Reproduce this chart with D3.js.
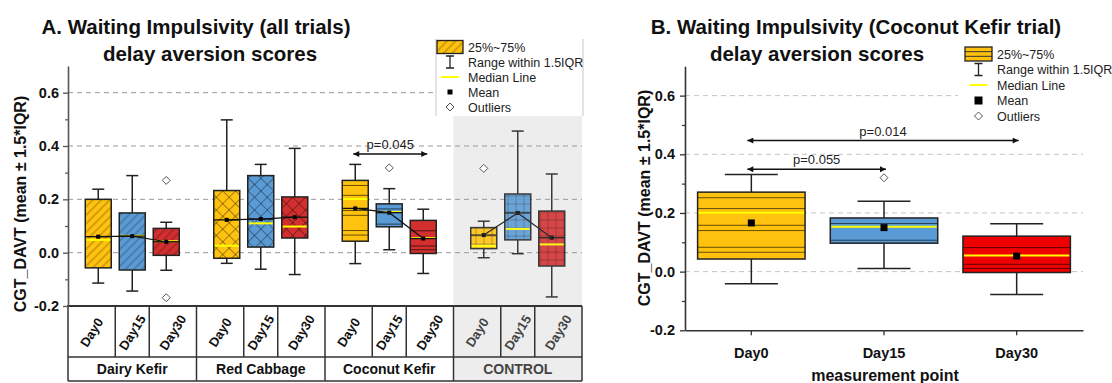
<!DOCTYPE html>
<html>
<head>
<meta charset="utf-8">
<script src="https://cdn.jsdelivr.net/npm/d3@7"></script>
<style>
  html, body { margin: 0; padding: 0; background: #fff; }
  svg { display: block; font-family: "Liberation Sans", Arial, sans-serif; }
</style>
</head>
<body>
<svg id="chart" width="1112" height="383"></svg>
<script>
// values
const groups = ['Dairy Kefir', 'Red Cabbage', 'Coconut Kefir', 'CONTROL'];
const days = ['Day0', 'Day15', 'Day30'];

// one row per group, one value per day
const whiskerLow  = [[-0.114, -0.144, -0.066], [-0.040, -0.062, -0.082], [-0.041, 0.011, -0.078], [-0.019, -0.004, -0.166]];
const quart1      = [[-0.057, -0.065, -0.010], [-0.021, 0.021, 0.055], [0.043, 0.097, -0.003], [0.015, 0.048, -0.050]];
const medians     = [[0.048, 0.063, 0.043], [0.026, 0.110, 0.098], [0.201, 0.153, 0.055], [0.025, 0.089, 0.031]];
const means       = [[0.060, 0.062, 0.041], [0.123, 0.126, 0.133], [0.166, 0.150, 0.053], [0.066, 0.149, 0.056]];
const quart3      = [[0.200, 0.149, 0.091], [0.233, 0.289, 0.209], [0.271, 0.183, 0.121], [0.094, 0.220, 0.156]];
const whiskerHigh = [[0.238, 0.289, 0.114], [0.498, 0.331, 0.391], [0.331, 0.240, 0.163], [0.118, 0.456, 0.295]];

// coconut kefir single scores drawn as lines inside the boxes
const coconutPoints = [[0.252, 0.215, 0.158, 0.140, 0.083, 0.066], [0.164, 0.107], [0.082, 0.025, 0.011]];

const outliersA = [['Dairy Kefir', 'Day30', 0.271], ['Dairy Kefir', 'Day30', -0.169], ['Coconut Kefir', 'Day15', 0.318], ['CONTROL', 'Day0', 0.316]];
const outliersB = [['Day15', 0.320]];

const pairsA = [['Coconut Kefir', 'Day0', 'Day30', 0.37, 'p=0.045']];
const pairsB = [['Day0', 'Day30', 0.447, 'p=0.014'], ['Day0', 'Day15', 0.349, 'p=0.055']];

const majorTicks = [-0.2, 0.0, 0.2, 0.4, 0.6];
const minorTicks = [-0.1, 0.1, 0.3, 0.5];
const legendLabels = ['25%~75%', 'Range within 1.5IQR', 'Median Line', 'Mean', 'Outliers'];

const colorsA = ['#FFC20E', '#5B9BD5', '#D32F2F'];
const colorsB = ['#FFC20E', '#5B9BD5', '#EE0000'];
const groupPattern = ['hatchDiag', 'hatchCross', null, 'hatchGrid'];
const MEDIAN = '#FFFF00';
const INK = '#222';

const svg = d3.select('#chart');
const defs = svg.append('defs');

function pattern(id, size, rotate, lines, alpha) {
  const p = defs.append('pattern')
    .attr('id', id)
    .attr('patternUnits', 'userSpaceOnUse')
    .attr('width', size).attr('height', size);
  if (rotate) p.attr('patternTransform', `rotate(${rotate})`);
  lines.forEach(l => p.append('line')
    .attr('x1', l[0]).attr('y1', l[1]).attr('x2', l[2]).attr('y2', l[3])
    .attr('stroke', `rgba(0,0,0,${alpha})`).attr('stroke-width', 0.8));
}
pattern('hatchDiag', 6, 45, [[3, 0, 3, 6]], 0.45);
pattern('hatchCross', 9, 45, [[4.5, 0, 4.5, 9], [0, 4.5, 9, 4.5]], 0.45);
pattern('hatchGrid', 8, 0, [[4, 0, 4, 8], [0, 4, 8, 4]], 0.35);

defs.append('marker')
  .attr('id', 'arrow')
  .attr('viewBox', '0 0 10 10')
  .attr('refX', 10).attr('refY', 5)
  .attr('markerWidth', 9).attr('markerHeight', 6)
  .attr('markerUnits', 'userSpaceOnUse')
  .attr('orient', 'auto-start-reverse')
  .append('path').attr('d', 'M0,0L10,5L0,10z').attr('fill', '#111');

function rowsFor(gi) {
  return days.map((d, di) => ({
    group: groups[gi], day: d, gi, di,
    lo: whiskerLow[gi][di], q1: quart1[gi][di], med: medians[gi][di],
    mean: means[gi][di], q3: quart3[gi][di], hi: whiskerHigh[gi][di],
    points: gi === 2 ? coconutPoints[di] : []
  }));
}

function drawBoxes(g, rows, xc, y, o) {
  const box = g.selectAll('g.box').data(rows).join('g').attr('class', 'box');
  const half = o.width / 2;

  box.append('line')
    .attr('x1', xc).attr('x2', xc)
    .attr('y1', d => y(d.hi)).attr('y2', d => y(d.lo))
    .attr('stroke', INK).attr('stroke-width', 1.5);
  ['hi', 'lo'].forEach(k => box.append('line')
    .attr('x1', d => xc(d) - o.cap / 2).attr('x2', d => xc(d) + o.cap / 2)
    .attr('y1', d => y(d[k])).attr('y2', d => y(d[k]))
    .attr('stroke', INK).attr('stroke-width', 1.5));

  box.append('rect')
    .attr('x', d => xc(d) - half).attr('width', o.width)
    .attr('y', d => y(d.q3)).attr('height', d => y(d.q1) - y(d.q3))
    .attr('fill', d => o.colors[d.di]);
  box.filter(d => o.pattern(d))
    .append('rect')
    .attr('x', d => xc(d) - half).attr('width', o.width)
    .attr('y', d => y(d.q3)).attr('height', d => y(d.q1) - y(d.q3))
    .attr('fill', d => `url(#${o.pattern(d)})`);

  box.selectAll('line.pt').data(d => d.points.map(p => ({ p, d }))).join('line')
    .attr('class', 'pt')
    .attr('x1', e => xc(e.d) - half).attr('x2', e => xc(e.d) + half)
    .attr('y1', e => y(e.p)).attr('y2', e => y(e.p))
    .attr('stroke', 'rgba(0,0,0,0.6)').attr('stroke-width', 1);

  box.append('rect')
    .attr('x', d => xc(d) - half).attr('width', o.width)
    .attr('y', d => y(d.q3)).attr('height', d => y(d.q1) - y(d.q3))
    .attr('fill', 'none').attr('stroke', INK).attr('stroke-width', 1.5);

  box.append('line')
    .attr('x1', d => xc(d) - half + 1).attr('x2', d => xc(d) + half - 1)
    .attr('y1', d => y(d.med)).attr('y2', d => y(d.med))
    .attr('stroke', MEDIAN).attr('stroke-width', 2);

  if (o.meanLine) {
    box.append('line')
      .attr('x1', d => xc(d) - half).attr('x2', d => xc(d) + half)
      .attr('y1', d => y(d.mean)).attr('y2', d => y(d.mean))
      .attr('stroke', '#111').attr('stroke-width', 1.3);
  }
  box.append('rect')
    .attr('x', d => xc(d) - o.meanSize / 2).attr('y', d => y(d.mean) - o.meanSize / 2)
    .attr('width', o.meanSize).attr('height', o.meanSize)
    .attr('fill', '#000');
}

function diamond(sel, r) {
  sel.attr('d', `M0,${-r}L${r},0L0,${r}L${-r},0Z`)
    .attr('fill', '#fff').attr('stroke', '#555').attr('stroke-width', 1);
}

function grid(g, y, x0, gridRight, gridColor) {
  g.append('g').selectAll('line').data(majorTicks.filter(v => v > -0.2)).join('line')
    .attr('x1', x0).attr('x2', gridRight)
    .attr('y1', y).attr('y2', y)
    .attr('stroke', gridColor).attr('stroke-width', 1).attr('stroke-dasharray', '5,4');
}

function styleAxis(ax, color) {
  ax.select('.domain').attr('stroke', color).attr('stroke-width', 1.6);
  ax.selectAll('.tick line').attr('stroke', color).attr('stroke-width', 1.3);
  ax.selectAll('.tick text').attr('fill', '#111').attr('font-size', 14.5).attr('font-weight', 'bold');
}

function legend(g, x0, y0, rowH, o) {
  const lg = g.append('g').attr('transform', `translate(${x0},${y0})`);
  const sx = o.sw / 2;
  lg.append('rect').attr('x', 0).attr('y', -o.sh / 2).attr('width', o.sw).attr('height', o.sh)
    .attr('fill', colorsA[0]);
  if (o.swPattern) {
    lg.append('rect').attr('x', 0).attr('y', -o.sh / 2).attr('width', o.sw).attr('height', o.sh)
      .attr('fill', `url(#${o.swPattern})`);
  } else {
    [-1, 1].forEach(s => lg.append('line').attr('x1', 0).attr('x2', o.sw)
      .attr('y1', s * o.sh / 6).attr('y2', s * o.sh / 6).attr('stroke', '#333').attr('stroke-width', 1));
  }
  lg.append('rect').attr('x', 0).attr('y', -o.sh / 2).attr('width', o.sw).attr('height', o.sh)
    .attr('fill', 'none').attr('stroke', INK).attr('stroke-width', 1.3);

  const r1 = rowH;
  lg.append('path')
    .attr('d', `M${sx - 4},${r1 - 6}H${sx + 4}M${sx},${r1 - 6}V${r1 + 6}M${sx - 4},${r1 + 6}H${sx + 4}`)
    .attr('stroke', INK).attr('stroke-width', 1.3).attr('fill', 'none');
  lg.append('line').attr('x1', sx - 9).attr('x2', sx + 9).attr('y1', 2 * rowH).attr('y2', 2 * rowH)
    .attr('stroke', MEDIAN).attr('stroke-width', 2);
  lg.append('rect').attr('x', sx - o.ms / 2).attr('y', 3 * rowH - o.ms / 2)
    .attr('width', o.ms).attr('height', o.ms).attr('fill', '#000');
  lg.append('path').attr('transform', `translate(${sx},${4 * rowH})`).call(diamond, 4);

  lg.selectAll('text.lab').data(legendLabels).join('text')
    .attr('class', 'lab')
    .attr('x', o.sw + 5).attr('y', (d, i) => i * rowH)
    .attr('dy', '0.36em')
    .attr('font-size', 12.5).attr('fill', '#222')
    .text(d => d);
}

function bracket(g, x1, x2, yv, label) {
  g.append('line').attr('x1', x1).attr('x2', x2).attr('y1', yv).attr('y2', yv)
    .attr('stroke', '#111').attr('stroke-width', 1.5)
    .attr('marker-start', 'url(#arrow)').attr('marker-end', 'url(#arrow)');
  g.append('text').attr('x', (x1 + x2) / 2).attr('y', yv - 5)
    .attr('text-anchor', 'middle').attr('font-size', 13).attr('fill', '#222').text(label);
}

function title(g, cx1, cx2, text1) {
  g.append('text').attr('x', cx1).attr('y', 34).attr('text-anchor', 'middle')
    .attr('font-size', 20.5).attr('font-weight', 'bold').attr('fill', '#111').text(text1);
  g.append('text').attr('x', cx2).attr('y', 60.5).attr('text-anchor', 'middle')
    .attr('font-size', 20.5).attr('font-weight', 'bold').attr('fill', '#111').text('delay aversion scores');
}

function yLabel(g, x, yc) {
  g.append('text').attr('transform', `translate(${x},${yc}) rotate(-90)`)
    .attr('text-anchor', 'middle').attr('font-size', 16).attr('font-weight', 'bold').attr('fill', '#111')
    .text('CGT_DAVT (mean \u00b1 1.5*IQR)');
}

// ---------------- panel A ----------------
const A = svg.append('g');
const yA = d3.scaleLinear().domain([-0.2, 0.7]).range([306, 66]);
const gx = d3.scaleBand().domain(groups).range([68, 582]);
const dx = d3.scalePoint().domain(days).range([0, gx.bandwidth()]).padding(0.89);
const xA = d => gx(d.group) + dx(d.day);

const ctrlX = gx('CONTROL');
A.append('rect').attr('x', ctrlX).attr('y', 116).attr('width', gx.bandwidth()).attr('height', 381 - 116)
  .attr('fill', '#EDEDED');

grid(A, yA, 68, 582, '#9a9a9a');

// category table under the plot
const tableTop = 306, rowSplit = 357, tableBottom = 381;
const cellEdges = [];
groups.forEach(gname => {
  const s = gx(gname);
  cellEdges.push(s + (dx('Day0') + dx('Day15')) / 2, s + (dx('Day15') + dx('Day30')) / 2);
});
const groupEdges = groups.map(gname => gx(gname)).concat([gx.range()[1]]);
const tbl = A.append('g').attr('stroke', '#333').attr('stroke-width', 1.5);
tbl.selectAll('line.c').data(cellEdges).join('line').attr('class', 'c')
  .attr('x1', d => d).attr('x2', d => d).attr('y1', tableTop).attr('y2', rowSplit);
tbl.selectAll('line.g').data(groupEdges).join('line').attr('class', 'g')
  .attr('x1', d => d).attr('x2', d => d).attr('y1', tableTop).attr('y2', tableBottom);
[rowSplit, tableBottom].forEach(yy => tbl.append('line')
  .attr('x1', 68).attr('x2', 582).attr('y1', yy).attr('y2', yy));
tbl.append('line').attr('x1', 67).attr('x2', 582).attr('y1', tableTop).attr('y2', tableTop)
  .attr('stroke-width', 2);

const dayCells = [];
groups.forEach((gname, gi) => {
  const s = gx(gname), e = s + gx.bandwidth();
  const edges = [s, s + (dx('Day0') + dx('Day15')) / 2, s + (dx('Day15') + dx('Day30')) / 2, e];
  days.forEach((d, di) => dayCells.push({ d, gi, cx: (edges[di] + edges[di + 1]) / 2 }));
});
A.selectAll('text.day').data(dayCells).join('text').attr('class', 'day')
  .attr('transform', d => `translate(${d.cx},${(tableTop + rowSplit) / 2 + 1}) rotate(-58)`)
  .attr('text-anchor', 'middle').attr('dy', '0.35em')
  .attr('font-size', 13).attr('font-weight', 'bold')
  .attr('fill', d => d.gi === 3 ? '#444' : '#111')
  .text(d => d.d);
A.selectAll('text.grp').data(groups).join('text').attr('class', 'grp')
  .attr('x', d => gx(d) + gx.bandwidth() / 2).attr('y', (rowSplit + tableBottom) / 2)
  .attr('dy', '0.36em').attr('text-anchor', 'middle')
  .attr('font-size', 14).attr('font-weight', 'bold')
  .attr('fill', (d, i) => i === 3 ? '#444' : '#111')
  .text(d => d);

groups.forEach((gname, gi) => {
  const rows = rowsFor(gi);
  const gg = A.append('g').attr('opacity', gi === 3 ? 0.88 : 1);
  drawBoxes(gg, rows, xA, yA, {
    width: 26, cap: 12, colors: colorsA, meanSize: 4, meanLine: true,
    pattern: () => groupPattern[gi]
  });
  gg.append('path').datum(rows)
    .attr('d', d3.line().x(xA).y(d => yA(d.mean)))
    .attr('fill', 'none').attr('stroke', '#111').attr('stroke-width', 1.2);
});

A.selectAll('path.out').data(outliersA).join('path').attr('class', 'out')
  .attr('transform', d => `translate(${gx(d[0]) + dx(d[1])},${yA(d[2])})`)
  .call(diamond, 4);

const axA = A.append('g').attr('transform', 'translate(68,0)')
  .call(d3.axisLeft(yA).tickValues(majorTicks).tickSize(5).tickSizeOuter(0).tickPadding(4)
    .tickFormat(d => d.toFixed(1)));
styleAxis(axA, '#555');
A.append('g').attr('transform', 'translate(68,0)')
  .call(d3.axisLeft(yA).tickValues(minorTicks).tickSize(3).tickFormat(''))
  .call(ax => { ax.select('.domain').remove(); ax.selectAll('line').attr('stroke', '#555').attr('stroke-width', 1.2); });

pairsA.forEach(p => bracket(A, gx(p[0]) + dx(p[1]) - 2, gx(p[0]) + dx(p[2]) + 4, yA(p[3]), p[4]));

A.append('rect').attr('x', 436).attr('y', 39).attr('width', 147).attr('height', 77).attr('fill', '#fff');
[436, 583].forEach(xx => A.append('line').attr('x1', xx).attr('x2', xx).attr('y1', 39).attr('y2', 116)
  .attr('stroke', '#c8c8c8').attr('stroke-width', 1));
legend(A, 437, 47, 15, { sw: 26, sh: 13, ms: 5, swPattern: 'hatchDiag' });

title(A, 196, 210, 'A. Waiting Impulsivity (all trials)');
yLabel(A, 26, 204);

// ---------------- panel B ----------------
const B = svg.append('g');
const yB = d3.scaleLinear().domain([-0.2, 0.7]).range([330.3, 66.3]);
const xB = d3.scaleBand().domain(days).range([685, 1083]).paddingInner(0.19).paddingOuter(0.095);
const xBc = d => xB(d.day) + xB.bandwidth() / 2;

grid(B, yB, 685, 1083, '#c4c4c4');
B.append('rect').attr('x', 958).attr('y', 88).attr('width', 125).attr('height', 14).attr('fill', '#fff');

drawBoxes(B, rowsFor(2), xBc, yB, {
  width: xB.bandwidth(), cap: 53, colors: colorsB, meanSize: 7, meanLine: false,
  pattern: () => null
});
B.selectAll('path.out').data(outliersB).join('path').attr('class', 'out')
  .attr('transform', d => `translate(${xB(d[0]) + xB.bandwidth() / 2},${yB(d[1])})`)
  .call(diamond, 4);

const axB = B.append('g').attr('transform', 'translate(685,0)')
  .call(d3.axisLeft(yB).tickValues(majorTicks).tickSize(5).tickSizeOuter(0).tickPadding(5)
    .tickFormat(d => d.toFixed(1)));
styleAxis(axB, '#333');
B.append('g').attr('transform', 'translate(685,0)')
  .call(d3.axisLeft(yB).tickValues(minorTicks).tickSize(3).tickFormat(''))
  .call(ax => { ax.select('.domain').remove(); ax.selectAll('line').attr('stroke', '#333').attr('stroke-width', 1.2); });
const axBx = B.append('g').attr('transform', `translate(0,${yB(-0.2)})`)
  .call(d3.axisBottom(xB).tickSize(5).tickSizeOuter(0).tickPadding(12));
styleAxis(axBx, '#333');

pairsB.forEach(p => bracket(B, xB(p[0]) + xB.bandwidth() / 2 - 4, xB(p[1]) + xB.bandwidth() / 2 + 2, yB(p[2]), p[3]));

legend(B, 965, 54, 15.5, { sw: 27, sh: 14, ms: 8, swPattern: null });

title(B, 856, 817, 'B. Waiting Impulsivity (Coconut Kefir trial)');
yLabel(B, 650, 198);
B.append('text').attr('x', 885).attr('y', 381).attr('text-anchor', 'middle')
  .attr('font-size', 16).attr('font-weight', 'bold').attr('fill', '#111').text('measurement point');
</script>
</body>
</html>
